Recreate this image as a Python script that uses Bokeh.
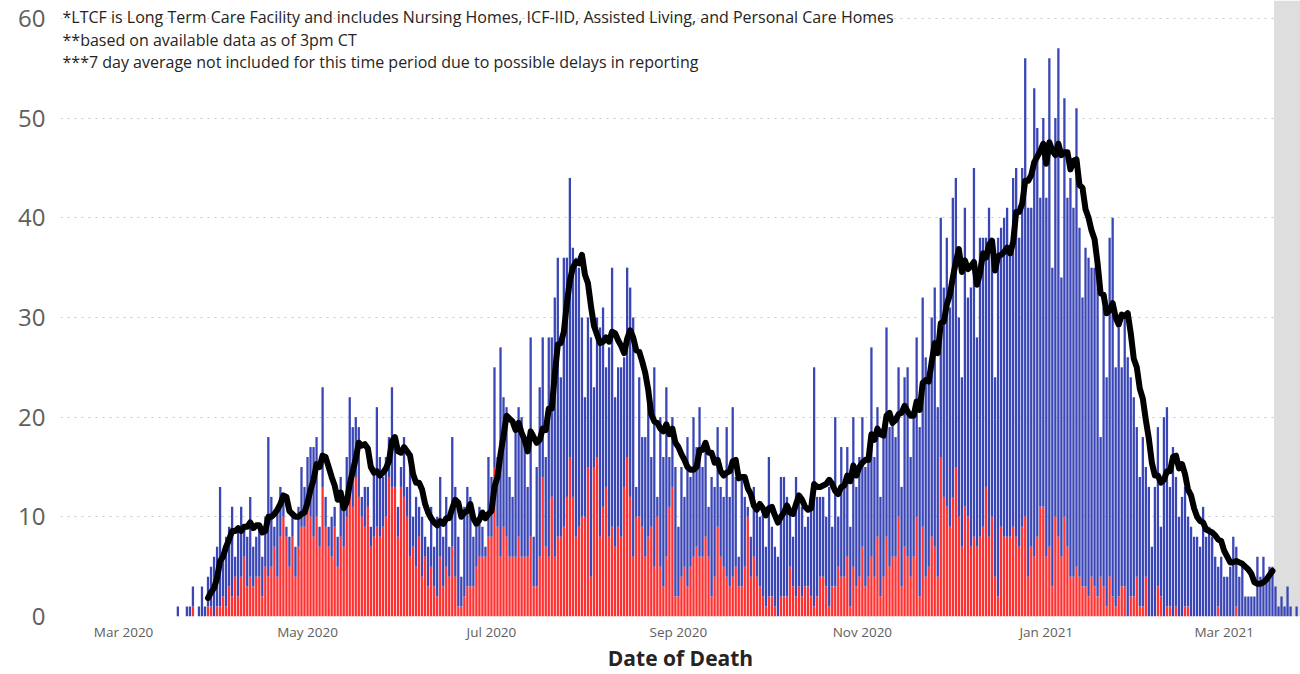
import pandas as pd
from bokeh.plotting import figure
from bokeh.models import ColumnDataSource, FixedTicker, Label, BoxAnnotation, Range1d
from bokeh.embed import file_html
from bokeh.resources import INLINE

# ---------------- data (daily deaths) ----------------
first_day = "2020-03-19"
avg_first_day = "2020-03-29"
avg_last_day = "2021-03-17"
shade_first_day = "2021-03-18"

total_mar20 = [1, 0, 0, 1, 1, 3, 0, 1, 3, 1, 4, 5, 6]
ltcf_mar20 = [0, 0, 0, 0, 0, 1, 0, 0, 0, 0, 1, 1, 0]
total_apr20 = [7, 13, 6, 8, 9, 11, 6, 9, 11, 9, 8, 12, 7, 8, 9, 6, 10, 18, 12, 9, 11, 13, 12, 9, 8, 10, 7, 11, 15, 13]
ltcf_apr20 = [1, 1, 2, 1, 3, 2, 4, 2, 4, 6, 3, 4, 3, 4, 4, 2, 5, 4, 5, 7, 4, 8, 10, 8, 5, 8, 4, 7, 9, 9]
total_may20 = [16, 17, 17, 18, 9, 23, 12, 9, 10, 11, 8, 14, 12, 16, 22, 19, 20, 19, 12, 13, 13, 9, 15, 21, 16, 14, 16, 18, 23, 18, 11]
ltcf_may20 = [12, 10, 8, 10, 7, 13, 9, 7, 6, 9, 5, 8, 7, 10, 12, 11, 14, 12, 10, 9, 11, 7, 8, 9, 8, 9, 10, 14, 13, 13, 8]
total_jun20 = [15, 18, 13, 15, 10, 12, 11, 10, 8, 7, 11, 7, 10, 14, 8, 12, 7, 18, 13, 8, 4, 11, 13, 12, 8, 9, 11, 9, 7, 16]
ltcf_jun20 = [13, 12, 10, 6, 7, 5, 8, 4, 6, 3, 5, 3, 2, 6, 3, 5, 4, 7, 4, 1, 1, 2, 3, 3, 3, 5, 6, 6, 6, 8]
total_jul20 = [14, 25, 16, 27, 22, 21, 14, 12, 19, 21, 20, 17, 13, 28, 8, 15, 23, 28, 16, 28, 28, 32, 36, 24, 36, 36, 44, 37, 36, 35, 30]
ltcf_jul20 = [8, 15, 9, 6, 9, 8, 6, 6, 6, 8, 6, 6, 6, 8, 3, 3, 6, 14, 7, 6, 12, 6, 8, 8, 9, 12, 16, 12, 8, 9, 10]
total_aug20 = [22, 30, 28, 23, 30, 29, 31, 25, 27, 35, 22, 25, 25, 26, 35, 33, 30, 13, 24, 18, 18, 23, 16, 25, 12, 20, 16, 23, 16, 20, 15]
ltcf_aug20 = [10, 15, 4, 15, 16, 8, 11, 13, 8, 9, 7, 9, 8, 13, 16, 12, 6, 10, 10, 9, 6, 8, 9, 5, 10, 5, 3, 6, 11, 13, 2]
total_sep20 = [9, 15, 12, 18, 14, 20, 17, 21, 15, 17, 11, 14, 13, 19, 13, 12, 19, 12, 21, 14, 6, 14, 12, 11, 8, 13, 11, 10, 11, 7]
ltcf_sep20 = [2, 4, 5, 3, 5, 6, 7, 6, 6, 8, 6, 2, 4, 9, 6, 5, 4, 3, 4, 5, 3, 3, 5, 10, 4, 6, 4, 3, 2, 1]
total_oct20 = [16, 9, 7, 6, 14, 14, 12, 11, 8, 14, 12, 11, 9, 10, 12, 25, 12, 12, 12, 10, 13, 9, 20, 10, 17, 13, 17, 9, 20, 13, 16]
ltcf_oct20 = [2, 2, 1, 0, 2, 2, 2, 5, 3, 2, 3, 2, 3, 3, 2, 1, 2, 4, 4, 3, 1, 3, 3, 5, 4, 4, 6, 1, 5, 3, 4]
total_nov20 = [20, 15, 17, 27, 16, 21, 12, 19, 29, 19, 20, 18, 25, 13, 24, 25, 16, 20, 28, 19, 32, 26, 24, 30, 33, 21, 40, 33, 38, 31]
ltcf_nov20 = [7, 3, 4, 6, 4, 8, 2, 4, 8, 5, 6, 6, 10, 3, 7, 6, 4, 6, 10, 2, 9, 4, 5, 8, 7, 4, 16, 12, 11, 9]
total_dec20 = [42, 44, 30, 24, 41, 32, 33, 45, 28, 38, 38, 38, 41, 36, 24, 38, 39, 40, 41, 37, 44, 45, 38, 45, 56, 41, 41, 53, 49, 42, 50]
ltcf_dec20 = [12, 15, 10, 7, 11, 10, 7, 8, 7, 8, 9, 13, 8, 10, 4, 2, 9, 8, 8, 8, 9, 8, 7, 9, 10, 4, 7, 6, 8, 11, 11]
total_jan21 = [42, 56, 35, 50, 57, 34, 52, 42, 44, 41, 51, 39, 32, 37, 36, 35, 35, 34, 18, 31, 24, 38, 40, 25, 29, 25, 30, 26, 24, 22, 19]
ltcf_jan21 = [6, 7, 3, 10, 8, 6, 10, 7, 4, 4, 5, 4, 3, 3, 2, 4, 3, 2, 4, 3, 1, 4, 2, 1, 2, 3, 3, 0, 2, 2, 4]
total_feb21 = [14, 18, 15, 13, 7, 13, 19, 9, 20, 21, 13, 17, 14, 10, 12, 13, 10, 9, 8, 8, 7, 11, 8, 9, 8, 6, 5, 6]
ltcf_feb21 = [1, 1, 4, 0, 0, 0, 3, 2, 0, 1, 1, 0, 1, 0, 0, 1, 1, 0, 0, 0, 0, 0, 0, 0, 0, 0, 1, 0]
total_mar21 = [4, 4, 5, 8, 7, 4, 5, 2, 2, 2, 2, 6, 4, 6, 4, 5, 5, 3, 1, 2, 1, 3, 1, 0, 1]
ltcf_mar21 = [0, 0, 0, 0, 1, 0, 0, 0, 0, 0, 0, 0, 0, 0, 0, 0, 0, 0, 0, 0, 0, 0, 0, 0, 0]

tick_dates = ["2020-03-01", "2020-05-01", "2020-07-01", "2020-09-01", "2020-11-01", "2021-01-01", "2021-03-01"]
tick_labels = ["Mar 2020", "May 2020", "Jul 2020", "Sep 2020", "Nov 2020", "Jan 2021", "Mar 2021"]
y_ticks = [0, 10, 20, 30, 40, 50, 60]

x_title = "Date of Death"
notes = [
    "*LTCF is Long Term Care Facility and includes Nursing Homes, ICF-IID, Assisted Living, and Personal Care Homes",
    "**based on available data as of 3pm CT",
    "***7 day average not included for this time period due to possible delays in reporting",
]

# ---------------- assemble ----------------
total = (total_mar20 + total_apr20 + total_may20 + total_jun20 + total_jul20 + total_aug20 +
         total_sep20 + total_oct20 + total_nov20 + total_dec20 + total_jan21 + total_feb21 + total_mar21)
ltcf = (ltcf_mar20 + ltcf_apr20 + ltcf_may20 + ltcf_jun20 + ltcf_jul20 + ltcf_aug20 +
        ltcf_sep20 + ltcf_oct20 + ltcf_nov20 + ltcf_dec20 + ltcf_jan21 + ltcf_feb21 + ltcf_mar21)

df = pd.DataFrame({"date": pd.date_range(first_day, periods=len(total), freq="D"),
                   "total": total, "ltcf": ltcf})
df["avg7"] = df["total"].rolling(7).mean()
line_df = df[(df["date"] >= avg_first_day) & (df["date"] <= avg_last_day)]


def ms(s):
    return pd.Timestamp(s).value // 10**6


DAY = 86400000
x_start = ms("2020-02-09 02:00")
x_end = ms("2021-03-26 07:00")

BLUE = "#3A46B5"
RED = "#FF3030"
GRAY_TXT = "#605E5C"
DARK_TXT = "#252423"

p = figure(width=1300, height=674, x_axis_type="datetime", output_backend="svg",
           toolbar_location=None, x_range=Range1d(x_start, x_end), y_range=Range1d(0, 61.8),
           min_border_left=60, min_border_right=0, min_border_top=0, min_border_bottom=58)

shade = BoxAnnotation(left=ms(shade_first_day) - DAY // 2, right=x_end,
                      fill_color="#DEDEDE", fill_alpha=1.0, line_color=None, level="underlay")
p.add_layout(shade)

src = ColumnDataSource(df)
p.vbar(x="date", bottom=0, top="ltcf", width=0.76 * DAY, source=src,
       fill_color=RED, line_color=None)
p.vbar(x="date", bottom="ltcf", top="total", width=0.76 * DAY, source=src,
       fill_color=BLUE, line_color=None)

p.line(x="date", y="avg7", source=ColumnDataSource(line_df), line_color="black",
       line_width=6, line_join="round", line_cap="round")

# axes
p.xaxis.ticker = FixedTicker(ticks=[ms(d) for d in tick_dates])
p.xaxis.major_label_overrides = {ms(d): lbl for d, lbl in zip(tick_dates, tick_labels)}
p.yaxis.ticker = FixedTicker(ticks=y_ticks)
for ax in (p.xaxis, p.yaxis):
    ax.axis_line_color = None
    ax.major_tick_line_color = None
    ax.minor_tick_line_color = None
    ax.major_tick_out = 0
    ax.major_tick_in = 0
    ax.minor_tick_out = 0
    ax.minor_tick_in = 0
    ax.major_label_text_color = GRAY_TXT
    ax.major_label_text_font = "Open Sans"
p.xaxis.major_label_text_font_size = "13.5px"
p.xaxis.major_label_standoff = 6
p.yaxis.major_label_text_font_size = "24px"
p.yaxis.major_label_standoff = 15

p.xaxis.axis_label = x_title
p.xaxis.axis_label_text_font = "Open Sans"
p.xaxis.axis_label_text_font_size = "21px"
p.xaxis.axis_label_text_font_style = "bold"
p.xaxis.axis_label_text_color = DARK_TXT
p.xaxis.axis_label_standoff = 0

p.xgrid.grid_line_color = None
p.ygrid.grid_line_color = "#C8C8C8"
p.ygrid.grid_line_dash = "2 5"
p.ygrid.grid_line_width = 1
p.outline_line_color = None
p.background_fill_color = "white"

for i, txt in enumerate(notes):
    p.add_layout(Label(x=x_start, y=60.1 - 2.25 * i, x_offset=2, text=txt,
                       text_font="Open Sans", text_font_size="16px",
                       text_color=DARK_TXT, text_baseline="middle"))

open("out.html", "w").write(file_html(p, INLINE))
